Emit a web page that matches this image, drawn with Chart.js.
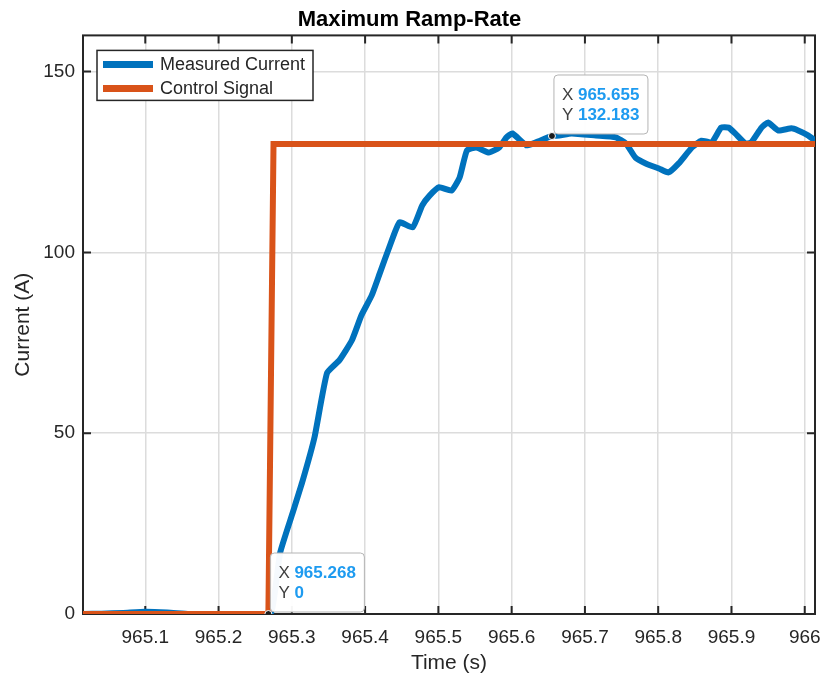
<!DOCTYPE html>
<html>
<head>
<meta charset="utf-8">
<script src="https://cdn.jsdelivr.net/npm/chart.js@4/dist/chart.umd.min.js"></script>
<style>
  body { margin: 0; background: #fff; }
  canvas { display: block; }
</style>
</head>
<body>
<canvas id="rampChart" width="820" height="675"></canvas>
<script>
const measuredTime = [
  965.015, 965.04, 965.07, 965.10, 965.13, 965.16, 965.19, 965.22, 965.25, 965.272,
  965.284, 965.301, 965.315, 965.331, 965.348, 965.365, 965.382, 965.395, 965.409, 965.420,
  965.433, 965.447, 965.465, 965.478, 965.488, 965.501, 965.518, 965.529, 965.539, 965.552,
  965.569, 965.583, 965.593, 965.601, 965.620, 965.633, 965.655, 965.665, 965.682, 965.715,
  965.742, 965.756, 965.769, 965.783, 965.801, 965.814, 965.828, 965.846, 965.859, 965.873,
  965.886, 965.896, 965.905, 965.919, 965.927, 965.941, 965.950, 965.964, 965.982, 965.991,
  966.005, 966.014
];
const measuredCurrent = [
  0, 0.1, 0.3, 0.6, 0.4, 0, -0.1, -0.4, -0.2, 0.5,
  16.9, 27.9, 37.0, 48.9, 66.6, 70.2, 75.7, 82.6, 88.1, 94.2,
  101.4, 108.3, 106.9, 113.0, 115.7, 118.0, 117.1, 120.7, 128.2, 129.0,
  127.6, 129.0, 131.8, 132.9, 129.6, 130.4, 132.183, 132.3, 132.9, 132.3,
  131.8, 130.1, 126.2, 124.6, 123.2, 122.1, 124.6, 129.0, 130.9, 130.4,
  134.5, 134.5, 132.9, 130.1, 130.4, 134.5, 135.9, 133.7, 134.3, 133.7,
  132.3, 130.9
];
const controlTime = [965.015, 965.268, 965.275, 966.015];
const controlSignal = [0, 0, 130, 130];

const tipTime = [965.268, 965.655];
const tipValue = [0, 132.183];

const xTicks = [965.1, 965.2, 965.3, 965.4, 965.5, 965.6, 965.7, 965.8, 965.9, 966];
const yTicks = [0, 50, 100, 150];

const seriesNames = ["Measured Current", "Control Signal"];
const seriesColors = ["#0072BD", "#D95319"];

const toPoints = (xs, ys) => xs.map((v, i) => ({ x: v, y: ys[i] }));
const axisColor = "#262626";
const fontFamily = "'Liberation Sans', Arial, sans-serif";

const decor = {
  id: "decor",
  beforeDatasetsDraw(chart) {
    const { ctx, chartArea: a, scales: { x, y } } = chart;
    ctx.save();
    ctx.strokeStyle = axisColor;
    ctx.lineWidth = 2;
    ctx.beginPath();
    xTicks.forEach(v => {
      const px = x.getPixelForValue(v);
      ctx.moveTo(px, a.bottom); ctx.lineTo(px, a.bottom - 8);
      ctx.moveTo(px, a.top); ctx.lineTo(px, a.top + 8);
    });
    yTicks.forEach(v => {
      const py = y.getPixelForValue(v);
      ctx.moveTo(a.left, py); ctx.lineTo(a.left + 8, py);
      ctx.moveTo(a.right, py); ctx.lineTo(a.right - 8, py);
    });
    ctx.stroke();
    ctx.strokeRect(a.left, a.top, a.right - a.left, a.bottom - a.top);
    ctx.restore();
  },
  beforeDatasetDraw(chart, args) {
    if (args.index !== 2) return;
    const { ctx, scales: { x, y } } = chart;
    ctx.save();
    tipTime.forEach((t, i) => {
      const px = x.getPixelForValue(t);
      const py = y.getPixelForValue(tipValue[i]);
      const left = px + 2, top = py - 61, w = 94, h = 59;
      ctx.beginPath();
      ctx.roundRect(left, top, w, h, 4);
      ctx.fillStyle = "rgba(255,255,255,0.96)";
      ctx.fill();
      ctx.strokeStyle = "#b4b4b4";
      ctx.lineWidth = 1;
      ctx.stroke();
      ctx.textBaseline = "middle";
      ctx.textAlign = "left";
      ctx.font = "17px " + fontFamily;
      ctx.fillStyle = "#404040";
      ctx.fillText("X", left + 8, top + 20);
      ctx.fillText("Y", left + 8, top + 40);
      ctx.font = "bold 17px " + fontFamily;
      ctx.fillStyle = "#1E9BF0";
      ctx.fillText(String(t), left + 24, top + 20);
      ctx.fillText(String(tipValue[i]), left + 24, top + 40);
    });
    ctx.restore();
  },
  afterDatasetsDraw(chart) {
    const { ctx, chartArea: a } = chart;
    const left = a.left + 14, top = a.top + 15;
    ctx.save();
    ctx.fillStyle = "#fff";
    ctx.fillRect(left, top, 216, 50);
    ctx.strokeStyle = axisColor;
    ctx.lineWidth = 1.5;
    ctx.strokeRect(left, top, 216, 50);
    ctx.font = "18px " + fontFamily;
    ctx.textBaseline = "middle";
    seriesNames.forEach((name, i) => {
      const cy = top + 14 + i * 24;
      ctx.strokeStyle = seriesColors[i];
      ctx.lineWidth = 7;
      ctx.beginPath();
      ctx.moveTo(left + 6, cy); ctx.lineTo(left + 56, cy);
      ctx.stroke();
      ctx.fillStyle = axisColor;
      ctx.fillText(name, left + 63, cy + 1);
    });
    ctx.restore();
  }
};

new Chart(document.getElementById("rampChart"), {
  type: "line",
  data: {
    datasets: [
      {
        label: seriesNames[0],
        data: toPoints(measuredTime, measuredCurrent),
        borderColor: seriesColors[0],
        borderWidth: 6,
        pointRadius: 0,
        tension: 0.15,
        borderJoinStyle: "round",
        borderCapStyle: "round",
        order: 2
      },
      {
        label: seriesNames[1],
        data: toPoints(controlTime, controlSignal),
        borderColor: seriesColors[1],
        borderWidth: 6,
        pointRadius: 0,
        tension: 0,
        order: 1
      },
      {
        type: "scatter",
        label: "Data tips",
        data: toPoints(tipTime, tipValue),
        pointRadius: 3.5,
        pointBackgroundColor: "#1a1a1a",
        pointBorderColor: "#ffffff",
        pointBorderWidth: 1,
        showLine: false,
        order: 0
      }
    ]
  },
  options: {
    responsive: false,
    animation: false,
    events: [],
    layout: { padding: { left: 0, right: 1, top: 0, bottom: 0 } },
    scales: {
      x: {
        type: "linear",
        min: 965.015,
        max: 966.014,
        border: { display: false },
        grid: { color: "#dcdcdc", lineWidth: 1.5, drawTicks: false },
        afterBuildTicks: s => { s.ticks = xTicks.map(v => ({ value: v })); },
        afterFit: s => { s.height = 61; s.paddingLeft = 0; s.paddingRight = 0; },
        ticks: {
          padding: 12,
          color: axisColor,
          font: { size: 19, family: fontFamily },
          maxRotation: 0,
          callback: v => String(Number(v.toFixed(1)))
        },
        title: {
          display: true,
          text: "Time (s)",
          color: axisColor,
          font: { size: 21, family: fontFamily },
          padding: { top: 0, bottom: -1 }
        }
      },
      y: {
        min: 0,
        max: 160,
        border: { display: false },
        grid: { color: "#dcdcdc", lineWidth: 1.5, drawTicks: false },
        afterBuildTicks: s => { s.ticks = yTicks.map(v => ({ value: v })); },
        afterFit: s => { s.width = 83; s.paddingTop = 0; s.paddingBottom = 0; },
        ticks: {
          padding: 8,
          color: axisColor,
          font: { size: 19, family: fontFamily }
        },
        title: {
          display: true,
          text: "Current (A)",
          color: axisColor,
          font: { size: 21, family: fontFamily },
          padding: { top: 11, bottom: 0 }
        }
      }
    },
    plugins: {
      legend: { display: false },
      tooltip: { enabled: false },
      title: {
        display: true,
        text: "Maximum Ramp-Rate",
        color: "#000",
        font: { size: 22, weight: "bold", family: fontFamily },
        padding: { top: 7, bottom: 2 }
      }
    }
  },
  plugins: [decor]
});
</script>
</body>
</html>
